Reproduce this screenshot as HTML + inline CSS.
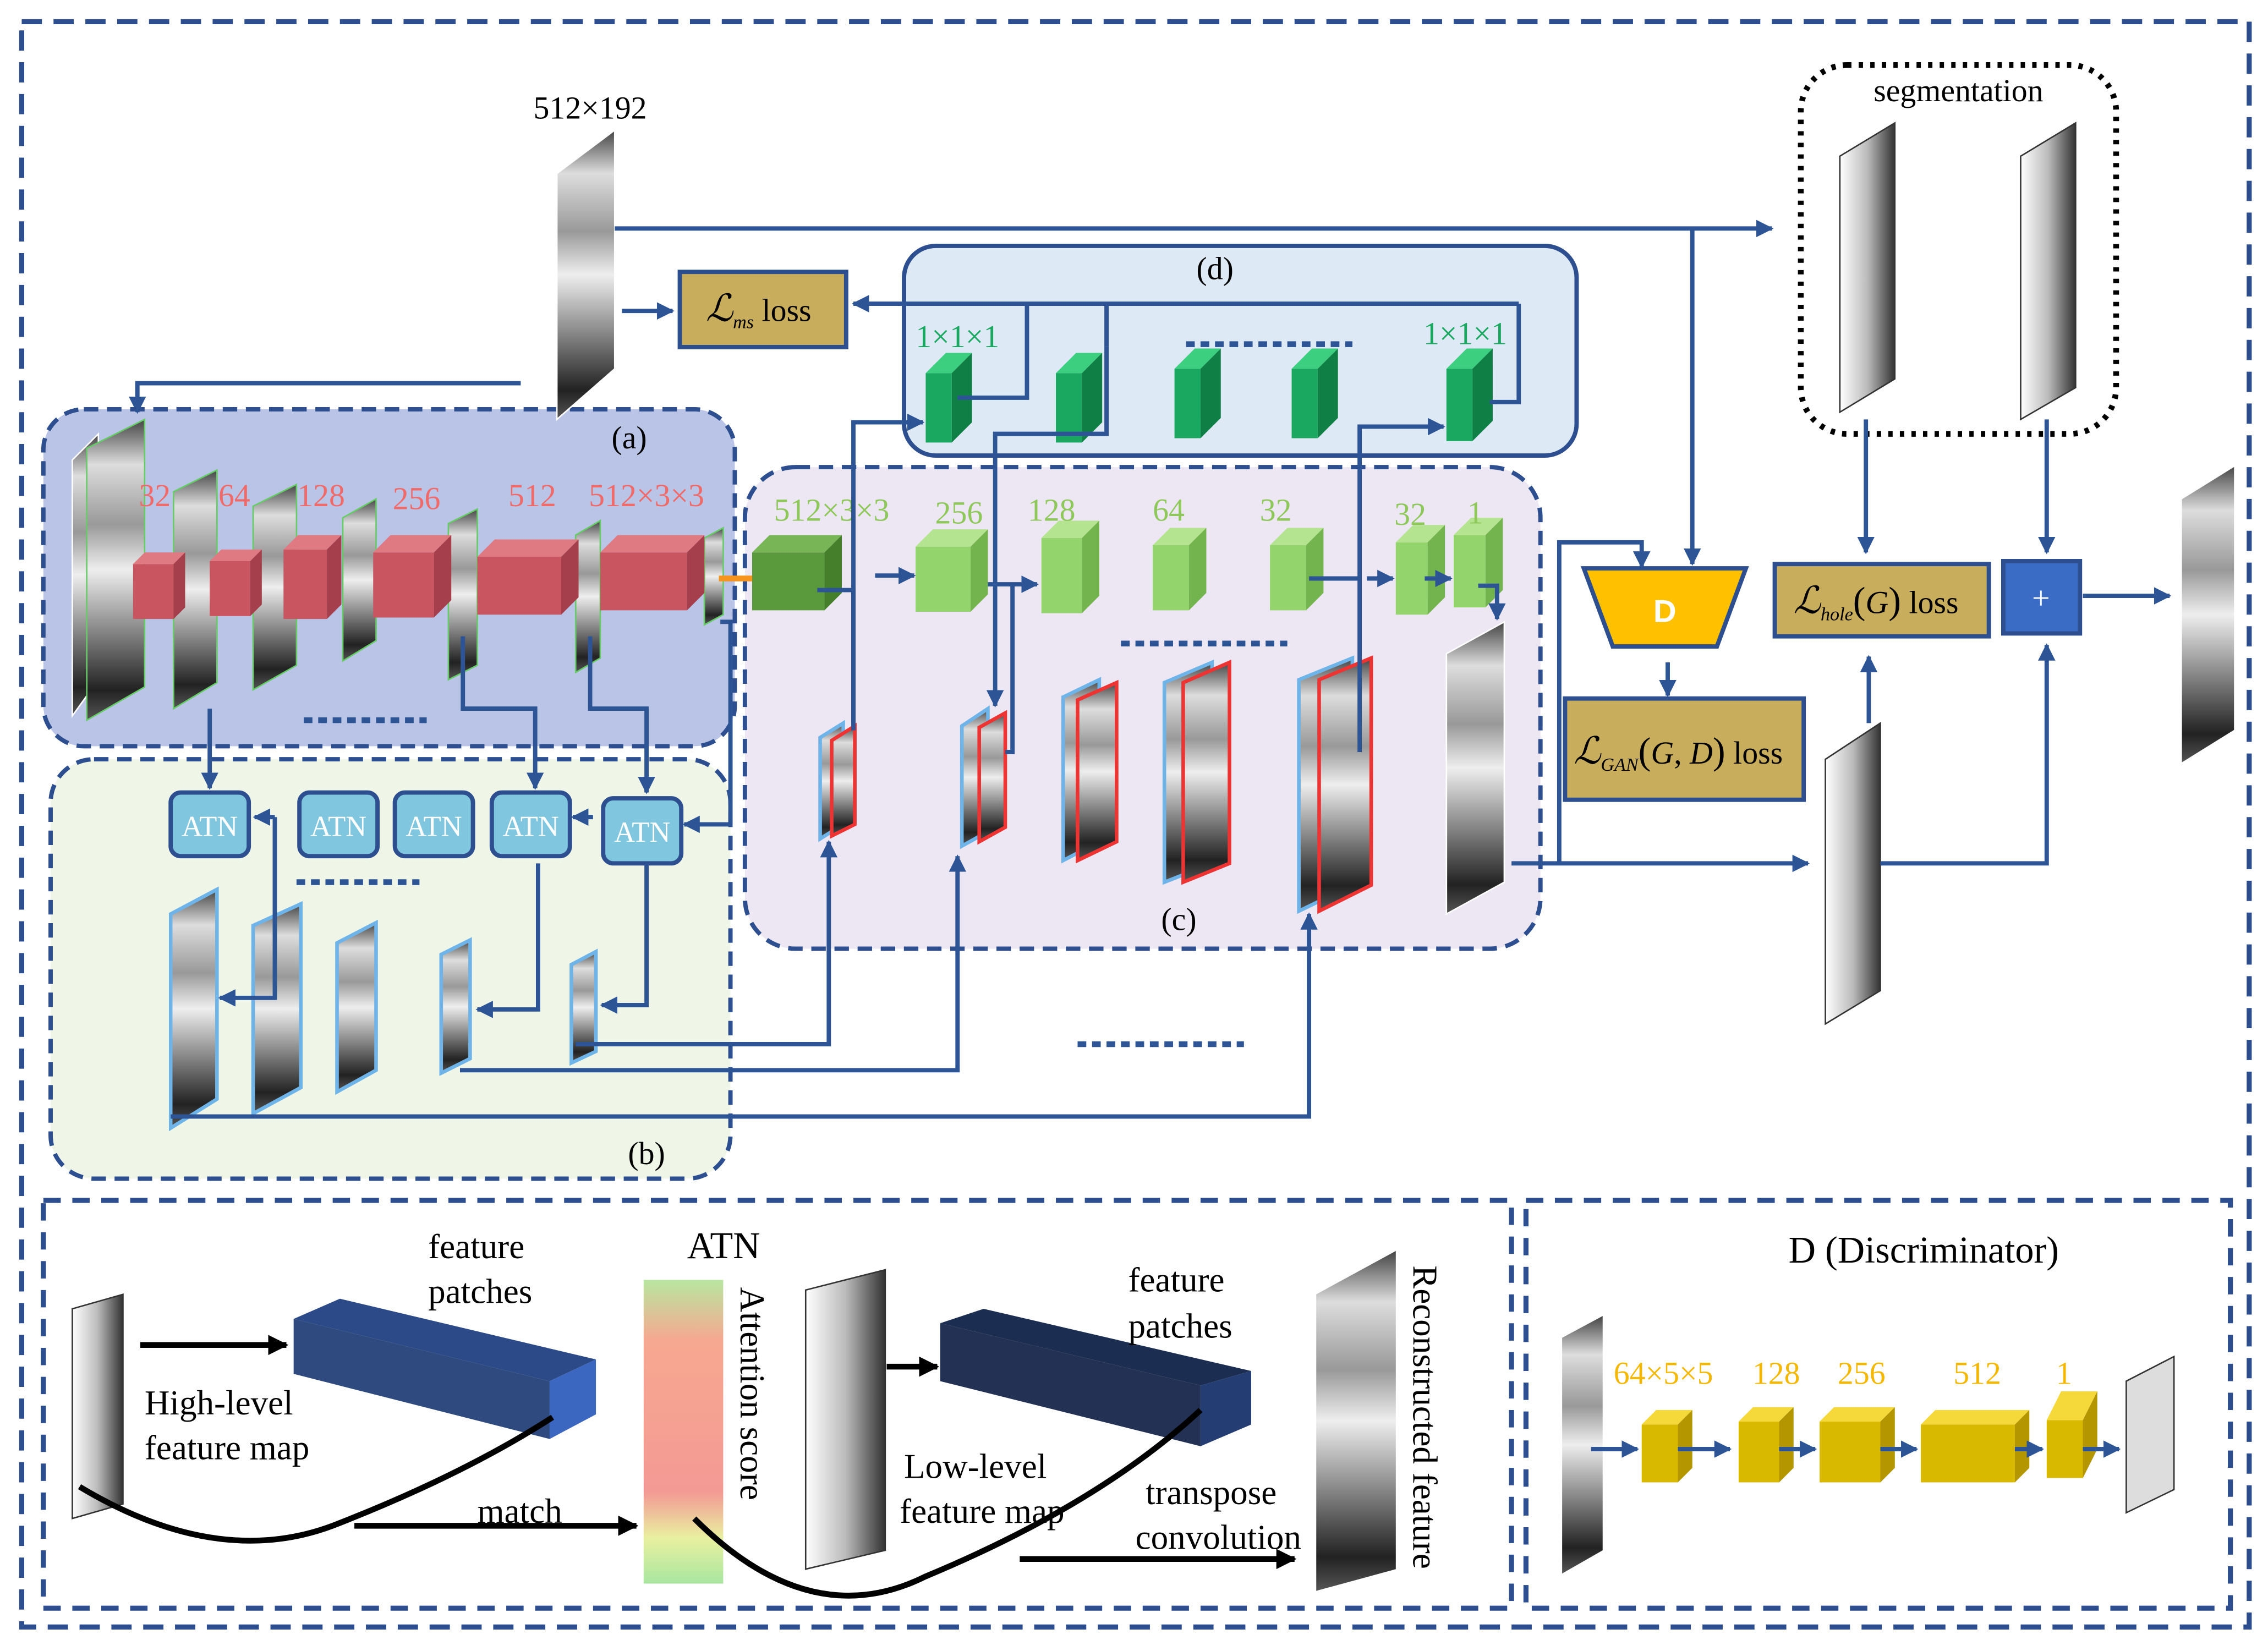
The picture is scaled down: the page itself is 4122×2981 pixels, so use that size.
<!DOCTYPE html>
<html><head><meta charset="utf-8"><style>html,body{margin:0;padding:0;background:#fff}svg{display:block}</style></head>
<body>
<svg width="4122" height="2981" viewBox="0 0 1568 1134" preserveAspectRatio="none" xmlns="http://www.w3.org/2000/svg" font-family="Liberation Serif, serif">
<defs>
<linearGradient id="xr" x1="0" y1="0" x2="0" y2="1">
<stop offset="0" stop-color="#444"/><stop offset="0.15" stop-color="#ddd"/><stop offset="0.35" stop-color="#999"/><stop offset="0.5" stop-color="#eee"/><stop offset="0.7" stop-color="#888"/><stop offset="0.9" stop-color="#222"/><stop offset="1" stop-color="#555"/></linearGradient>
<linearGradient id="xh" x1="0" y1="0" x2="1" y2="0">
<stop offset="0" stop-color="#fff"/><stop offset="0.5" stop-color="#bbb"/><stop offset="1" stop-color="#333"/></linearGradient>
<linearGradient id="att" x1="0" y1="0" x2="0" y2="1">
<stop offset="0" stop-color="#b8e6a0"/><stop offset="0.2" stop-color="#f7a890"/><stop offset="0.7" stop-color="#f39a94"/><stop offset="0.85" stop-color="#e9f0a0"/><stop offset="1" stop-color="#a8e6a0"/></linearGradient>
<marker id="ah" viewBox="0 0 10 10" refX="9" refY="5" markerWidth="4" markerHeight="4" orient="auto"><path d="M0,0L10,5L0,10z" fill="#2d5596"/></marker>
<marker id="bh" viewBox="0 0 10 10" refX="9" refY="5" markerWidth="3.5" markerHeight="3.5" orient="auto"><path d="M0,0L10,5L0,10z" fill="#000"/></marker>
</defs>

<!-- outer -->
<rect x="15" y="15" width="1540" height="1110" fill="none" stroke="#2d4f8f" stroke-width="3.5" stroke-dasharray="14,8"/>

<!-- regions -->
<rect x="30" y="283" width="478" height="233" rx="28" fill="#b9c4e6" stroke="#2d4f8f" stroke-width="3" stroke-dasharray="10,6"/>
<rect x="35" y="525" width="470" height="290" rx="30" fill="#eff6e8" stroke="#2d4f8f" stroke-width="3" stroke-dasharray="10,6"/>
<rect x="515" y="323" width="550" height="333" rx="35" fill="#ede7f3" stroke="#2d4f8f" stroke-width="3" stroke-dasharray="10,6"/>
<rect x="625" y="170" width="465" height="145" rx="22" fill="#dde9f5" stroke="#2d4f8f" stroke-width="3"/>
<rect x="1245" y="45" width="218" height="255" rx="32" fill="none" stroke="#000" stroke-width="4" stroke-dasharray="3,5"/>
<rect x="30" y="830" width="1015" height="282" fill="none" stroke="#2d4f8f" stroke-width="3.5" stroke-dasharray="12,8"/>
<rect x="1055" y="830" width="487" height="282" fill="none" stroke="#2d4f8f" stroke-width="3.5" stroke-dasharray="12,8"/>

<g font-size="22" fill="#000">
<text x="408" y="82" text-anchor="middle">512×192</text>
<text x="435" y="310" text-anchor="middle">(a)</text>
<text x="447" y="805" text-anchor="middle">(b)</text>
<text x="815" y="643" text-anchor="middle">(c)</text>
<text x="840" y="193" text-anchor="middle">(d)</text>
<text x="1354" y="70" text-anchor="middle">segmentation</text>
</g>

<!-- images -->
<g stroke="#fff" stroke-width="1">
<polygon points="385,120 425,90 425,255 385,290" fill="url(#xr)"/>
<polygon points="50,318 68,300 68,470 50,495" fill="url(#xr)"/>
<polygon points="60,310 100,290 100,475 60,498" fill="url(#xr)" stroke="#6c6"/>
<polygon points="120,340 150,325 150,472 120,490" fill="url(#xr)" stroke="#6c6"/>
<polygon points="175,350 205,335 205,460 175,477" fill="url(#xr)" stroke="#6c6"/>
<polygon points="237,358 260,345 260,443 237,457" fill="url(#xr)" stroke="#6c6"/>
<polygon points="310,362 330,352 330,460 310,470" fill="url(#xr)" stroke="#6c6"/>
<polygon points="398,370 415,360 415,455 398,465" fill="url(#xr)" stroke="#6c6"/>
<polygon points="487,372 500,365 500,425 487,432" fill="url(#xr)" stroke="#6c6"/>
</g>
<g stroke="#6fb4e8" stroke-width="2.5">
<polygon points="118,632 150,615 150,760 118,780" fill="url(#xr)"/>
<polygon points="175,640 208,625 208,752 175,770" fill="url(#xr)"/>
<polygon points="233,652 260,638 260,740 233,755" fill="url(#xr)"/>
<polygon points="305,660 325,650 325,732 305,742" fill="url(#xr)"/>
<polygon points="395,667 412,658 412,727 395,735" fill="url(#xr)"/>
</g>
<g stroke-width="2.5">
<polygon points="567,510 583,500 583,570 567,580" fill="url(#xr)" stroke="#6fb4e8"/>
<polygon points="575,512 591,502 591,570 575,578" fill="url(#xr)" stroke="#e33"/>
<polygon points="665,502 683,490 683,575 665,585" fill="url(#xr)" stroke="#6fb4e8"/>
<polygon points="677,503 695,493 695,572 677,582" fill="url(#xr)" stroke="#e33"/>
<polygon points="735,482 760,470 760,582 735,595" fill="url(#xr)" stroke="#6fb4e8"/>
<polygon points="745,484 772,472 772,582 745,595" fill="url(#xr)" stroke="#e33"/>
<polygon points="805,472 838,458 838,597 805,610" fill="url(#xr)" stroke="#6fb4e8"/>
<polygon points="818,472 850,458 850,597 818,610" fill="url(#xr)" stroke="#e33"/>
<polygon points="898,470 935,455 935,612 898,630" fill="url(#xr)" stroke="#6fb4e8"/>
<polygon points="912,470 948,455 948,612 912,630" fill="url(#xr)" stroke="#e33"/>
<polygon points="1000,452 1040,430 1040,610 1000,632" fill="url(#xr)" stroke="#fff" stroke-width="1"/>
<polygon points="1508,345 1545,322 1545,505 1508,528" fill="url(#xr)" stroke="#fff" stroke-width="1"/>
<polygon points="1262,525 1300,500 1300,685 1262,708" fill="url(#xh)" stroke="#333" stroke-width="1"/>
<polygon points="1272,108 1310,85 1310,262 1272,285" fill="url(#xh)" stroke="#333" stroke-width="1"/>
<polygon points="1397,108 1435,85 1435,268 1397,290" fill="url(#xh)" stroke="#333" stroke-width="1"/>
</g>

<!-- red boxes -->
<g>
<g fill="#c95560"><rect x="92" y="390" width="28" height="38"/><rect x="145" y="388" width="28" height="38"/><rect x="196" y="380" width="30" height="48"/><rect x="258" y="382" width="42" height="45"/><rect x="330" y="385" width="58" height="40"/><rect x="415" y="382" width="60" height="40"/></g>
<g fill="#e07a82"><polygon points="92,390 100,382 128,382 120,390"/><polygon points="145,388 153,380 181,380 173,388"/><polygon points="196,380 206,370 236,370 226,380"/><polygon points="258,382 270,370 312,370 300,382"/><polygon points="330,385 342,373 400,373 388,385"/><polygon points="415,382 427,370 487,370 475,382"/></g>
<g fill="#a53f4b"><polygon points="120,390 128,382 128,420 120,428"/><polygon points="173,388 181,380 181,418 173,426"/><polygon points="226,380 236,370 236,418 226,428"/><polygon points="300,382 312,370 312,415 300,427"/><polygon points="388,385 400,373 400,413 388,425"/><polygon points="475,382 487,370 487,410 475,422"/></g>
</g>
<!-- green boxes -->
<g>
<rect x="520" y="382" width="50" height="40" fill="#5a9a3c"/><polygon points="520,382 532,370 582,370 570,382" fill="#78b556"/><polygon points="570,382 582,370 582,410 570,422" fill="#467f2c"/>
<g fill="#93d46d"><rect x="633" y="378" width="38" height="45"/><rect x="720" y="372" width="28" height="52"/><rect x="797" y="377" width="25" height="45"/><rect x="878" y="377" width="25" height="45"/><rect x="965" y="375" width="22" height="50"/><rect x="1005" y="370" width="22" height="50"/></g>
<g fill="#b4e48f"><polygon points="633,378 645,366 683,366 671,378"/><polygon points="720,372 732,360 760,360 748,372"/><polygon points="797,377 809,365 834,365 822,377"/><polygon points="878,377 890,365 915,365 903,377"/><polygon points="965,375 977,363 999,363 987,375"/><polygon points="1005,370 1017,358 1039,358 1027,370"/></g>
<g fill="#74b44e"><polygon points="671,378 683,366 683,411 671,423"/><polygon points="748,372 760,360 760,412 748,424"/><polygon points="822,377 834,365 834,410 822,422"/><polygon points="903,377 915,365 915,410 903,422"/><polygon points="987,375 999,363 999,413 987,425"/><polygon points="1027,370 1039,358 1039,408 1027,420"/></g>
</g>
<!-- 1x1x1 -->
<g>
<g fill="#1aa860"><rect x="640" y="258" width="18" height="48"/><rect x="730" y="258" width="18" height="48"/><rect x="812" y="255" width="18" height="48"/><rect x="893" y="255" width="18" height="48"/><rect x="1000" y="255" width="18" height="50"/></g>
<g fill="#3ccf80"><polygon points="640,258 654,244 672,244 658,258"/><polygon points="730,258 744,244 762,244 748,258"/><polygon points="812,255 826,241 844,241 830,255"/><polygon points="893,255 907,241 925,241 911,255"/><polygon points="1000,255 1014,241 1032,241 1018,255"/></g>
<g fill="#0f7f45"><polygon points="658,258 672,244 672,292 658,306"/><polygon points="748,258 762,244 762,292 748,306"/><polygon points="830,255 844,241 844,289 830,303"/><polygon points="911,255 925,241 925,289 911,303"/><polygon points="1018,255 1032,241 1032,291 1018,305"/></g>
</g>

<g font-size="22" fill="#f06a6a">
<text x="107" y="350" text-anchor="middle">32</text><text x="162" y="350" text-anchor="middle">64</text><text x="222" y="350" text-anchor="middle">128</text><text x="288" y="352" text-anchor="middle">256</text><text x="368" y="350" text-anchor="middle">512</text><text x="447" y="350" text-anchor="middle">512×3×3</text>
</g>
<g font-size="22" fill="#8ec85a">
<text x="575" y="360" text-anchor="middle">512×3×3</text><text x="663" y="362" text-anchor="middle">256</text><text x="727" y="360" text-anchor="middle">128</text><text x="808" y="360" text-anchor="middle">64</text><text x="882" y="360" text-anchor="middle">32</text><text x="975" y="363" text-anchor="middle">32</text><text x="1020" y="362" text-anchor="middle">1</text>
</g>
<g font-size="22" fill="#1aa860"><text x="662" y="240" text-anchor="middle">1×1×1</text><text x="1013" y="238" text-anchor="middle">1×1×1</text></g>

<!-- ATN boxes -->
<g fill="#80c6df" stroke="#2d4f8f" stroke-width="3">
<rect x="118" y="548" width="54" height="44" rx="7"/><rect x="207" y="548" width="54" height="44" rx="7"/><rect x="273" y="548" width="54" height="44" rx="7"/><rect x="340" y="548" width="54" height="44" rx="7"/><rect x="417" y="552" width="54" height="45" rx="7"/>
</g>
<g font-size="20" fill="#fff" text-anchor="middle"><text x="145" y="578">ATN</text><text x="234" y="578">ATN</text><text x="300" y="578">ATN</text><text x="367" y="578">ATN</text><text x="444" y="582">ATN</text></g>

<!-- loss boxes -->
<g fill="#c8ad5c" stroke="#2d4f8f" stroke-width="3">
<rect x="470" y="188" width="115" height="52"/><rect x="1082" y="483" width="165" height="70"/><rect x="1227" y="390" width="148" height="50"/>
</g>
<rect x="1385" y="388" width="53" height="50" fill="#3a6cc6" stroke="#2d4f8f" stroke-width="3"/>
<text x="1411" y="421" font-size="22" fill="#fff" text-anchor="middle">+</text>
<g font-size="22" fill="#000">
<text x="488" y="222"><tspan font-style="italic" font-size="26">ℒ</tspan><tspan font-size="13" font-style="italic" dy="5">ms</tspan><tspan dy="-5"> loss</tspan></text>
<text x="1088" y="528"><tspan font-style="italic" font-size="26">ℒ</tspan><tspan font-size="13" font-style="italic" dy="5">GAN</tspan><tspan dy="-5" font-size="26">(</tspan><tspan font-style="italic">G</tspan>, <tspan font-style="italic">D</tspan><tspan font-size="26">)</tspan> loss</text>
<text x="1240" y="424"><tspan font-style="italic" font-size="26">ℒ</tspan><tspan font-size="13" font-style="italic" dy="5">hole</tspan><tspan dy="-5" font-size="26">(</tspan><tspan font-style="italic">G</tspan><tspan font-size="26">)</tspan> loss</text>
</g>
<polygon points="1095,393 1207,393 1187,447 1115,447" fill="#ffc000" stroke="#2d4f8f" stroke-width="3"/>
<text x="1151" y="430" font-size="22" fill="#fff" font-weight="bold" text-anchor="middle" font-family="Liberation Sans, sans-serif">D</text>

<!-- connectors -->
<g fill="none" stroke="#2d5596" stroke-width="3">
<path d="M425,158H1225" marker-end="url(#ah)"/>
<path d="M1170,158V390" marker-end="url(#ah)"/>
<path d="M430,215H465" marker-end="url(#ah)"/>
<path d="M360,265H95V285" marker-end="url(#ah)"/>
<path d="M1050,210H590" marker-end="url(#ah)"/>
<path d="M710,210V275H662"/>
<path d="M765,210V240"/>
<path d="M1050,210V278H1030"/>
<path d="M590,500V292H638" marker-end="url(#ah)"/>
<path d="M765,240V300H688V488" marker-end="url(#ah)"/>
<path d="M940,520V295H998" marker-end="url(#ah)"/>
<path d="M565,408H590V505" />
<path d="M605,398H632" marker-end="url(#ah)"/>
<path d="M683,404H717" marker-end="url(#ah)"/>
<path d="M695,520H700V404"/>
<path d="M905,400H940"/>
<path d="M945,400H963" marker-end="url(#ah)"/>
<path d="M985,400H1003" marker-end="url(#ah)"/>
<path d="M1022,405H1035V428" marker-end="url(#ah)"/>
<path d="M145,490V545" marker-end="url(#ah)"/>
<path d="M320,440V490H370V545" marker-end="url(#ah)"/>
<path d="M408,440V490H447V548" marker-end="url(#ah)"/>
<path d="M498,430H505V570H473" marker-end="url(#ah)"/>
<path d="M190,565H176" marker-end="url(#ah)"/>
<path d="M190,565V690H152" marker-end="url(#ah)"/>
<path d="M372,597V698H330" marker-end="url(#ah)"/>
<path d="M447,597V695H416" marker-end="url(#ah)"/>
<path d="M410,565H396" marker-end="url(#ah)"/>
<path d="M318,740H662V592" marker-end="url(#ah)"/>
<path d="M398,722H573V582" marker-end="url(#ah)"/>
<path d="M118,772H905V632" marker-end="url(#ah)"/>
<path d="M1045,597H1250" marker-end="url(#ah)"/>
<path d="M1078,597V375H1135V392" marker-end="url(#ah)"/>
<path d="M1153,458V481" marker-end="url(#ah)"/>
<path d="M1290,290V382" marker-end="url(#ah)"/>
<path d="M1415,290V382" marker-end="url(#ah)"/>
<path d="M1300,597H1415V446" marker-end="url(#ah)"/>
<path d="M1292,500V454" marker-end="url(#ah)"/>
<path d="M1440,412H1500" marker-end="url(#ah)"/>
</g>
<g stroke="#2d5596" stroke-width="4" stroke-dasharray="6,4">
<path d="M210,498H295"/><path d="M205,610H290"/><path d="M775,445H890"/><path d="M820,238H935"/><path d="M745,722H860"/>
</g>
<path d="M497,400H520" stroke="#f7941d" stroke-width="4"/>

<!-- bottom left panel -->
<polygon points="50,905 85,895 85,1040 50,1050" fill="url(#xh)" stroke="#333" stroke-width="1"/>
<path d="M97,930H198" stroke="#000" stroke-width="4" marker-end="url(#bh)"/>
<polygon points="203,912 235,898 412,940 380,955" fill="#2b4a87"/>
<polygon points="203,912 380,955 380,995 203,950" fill="#2e4a7e"/>
<polygon points="380,955 412,940 412,978 380,995" fill="#3b67c0"/>
<rect x="445" y="885" width="55" height="210" fill="url(#att)"/>
<polygon points="557,892 612,878 612,1072 557,1085" fill="url(#xh)" stroke="#333" stroke-width="1"/>
<path d="M613,945H648" stroke="#000" stroke-width="4" marker-end="url(#bh)"/>
<polygon points="650,915 680,905 865,948 830,958" fill="#1b2d50"/>
<polygon points="650,915 830,958 830,1000 650,955" fill="#233154"/>
<polygon points="830,958 865,948 865,985 830,1000" fill="#243d72"/>
<polygon points="910,895 965,865 965,1085 910,1100" fill="url(#xr)"/>
<path d="M55,1028 Q150,1085 230,1055 Q320,1020 382,980" stroke="#000" stroke-width="4" fill="none"/>
<path d="M480,1050 Q560,1130 640,1090 Q760,1040 830,975" stroke="#000" stroke-width="4" fill="none"/>
<path d="M245,1055H440" stroke="#000" stroke-width="4" marker-end="url(#bh)"/>
<path d="M705,1078H895" stroke="#000" stroke-width="4" marker-end="url(#bh)"/>
<g font-size="24" fill="#000">
<text x="100" y="978">High-level</text><text x="100" y="1009">feature map</text>
<text x="296" y="870">feature</text><text x="296" y="901">patches</text>
<text x="330" y="1053">match</text>
<text x="475" y="870" font-size="26">ATN</text>
<text x="780" y="893">feature</text><text x="780" y="925">patches</text>
<text x="625" y="1022">Low-level</text><text x="622" y="1053">feature map</text>
<text x="792" y="1040">transpose</text><text x="785" y="1071">convolution</text>
<text transform="translate(512,890) rotate(90)" font-size="24">Attention  score</text>
<text transform="translate(977,875) rotate(90)" font-size="24">Reconstructed feature</text>
</g>

<!-- D panel -->
<text x="1330" y="873" font-size="26" text-anchor="middle">D (Discriminator)</text>
<polygon points="1080,925 1108,910 1108,1072 1080,1088" fill="url(#xr)"/>
<g fill="#d9b800"><rect x="1135" y="985" width="25" height="40"/><rect x="1202" y="983" width="28" height="42"/><rect x="1258" y="983" width="42" height="42"/><rect x="1328" y="985" width="65" height="40"/><rect x="1415" y="982" width="25" height="40"/></g>
<g fill="#f5d83a"><polygon points="1135,985 1145,975 1170,975 1160,985"/><polygon points="1202,983 1212,973 1240,973 1230,983"/><polygon points="1258,983 1268,973 1310,973 1300,983"/><polygon points="1328,985 1338,975 1403,975 1393,985"/><polygon points="1415,982 1425,962 1450,962 1440,982"/></g>
<g fill="#b39600"><polygon points="1160,985 1170,975 1170,1015 1160,1025"/><polygon points="1230,983 1240,973 1240,1015 1230,1025"/><polygon points="1300,983 1310,973 1310,1015 1300,1025"/><polygon points="1393,985 1403,975 1403,1015 1393,1025"/><polygon points="1440,982 1450,962 1450,1002 1440,1022"/></g>
<g font-size="22" fill="#f5b800" text-anchor="middle"><text x="1150" y="957">64×5×5</text><text x="1228" y="957">128</text><text x="1287" y="957">256</text><text x="1367" y="957">512</text><text x="1427" y="957">1</text></g>
<g stroke="#2d5596" stroke-width="3">
<path d="M1100,1002H1132" marker-end="url(#ah)"/><path d="M1160,1002H1196" marker-end="url(#ah)"/><path d="M1230,1002H1255" marker-end="url(#ah)"/><path d="M1300,1002H1325" marker-end="url(#ah)"/><path d="M1393,1002H1412" marker-end="url(#ah)"/><path d="M1440,1002H1465" marker-end="url(#ah)"/>
</g>
<polygon points="1470,955 1503,938 1503,1030 1470,1046" fill="#ddd" stroke="#333" stroke-width="1"/>
</svg>
</body></html>
